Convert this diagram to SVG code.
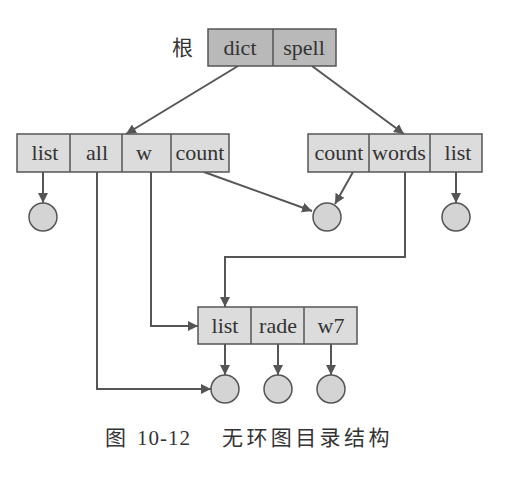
<svg xmlns="http://www.w3.org/2000/svg" width="520" height="478" viewBox="0 0 520 478">
<style>
.box{fill:#dcdcdc;stroke:#555;stroke-width:1.5}
.root{fill:#b9b9b9;stroke:#555;stroke-width:1.5}
.div{stroke:#555;stroke-width:1.5}
.t{font-family:"Liberation Serif",serif;font-size:22px;fill:#333;text-anchor:middle}
.c{fill:#d4d4d4;stroke:#555;stroke-width:1.5}
.e{fill:none;stroke:#555;stroke-width:2}
.cap{font-family:"Liberation Serif","Noto Sans CJK SC",serif;font-size:21px;fill:#333}
</style>
<defs>
<marker id="a" viewBox="0 0 10 10" refX="10" refY="5" markerWidth="5" markerHeight="5" orient="auto" markerUnits="strokeWidth">
<path d="M0,0 L10,5 L0,10 z" fill="#555"/>
</marker>
</defs>
<rect width="520" height="478" fill="#fff"/>
<g id="connectors">
<path class="e" d="M238,66 L126,134" marker-end="url(#a)"/>
<path class="e" d="M312,66 L404,134" marker-end="url(#a)"/>
<path class="e" d="M43,172 L43,203" marker-end="url(#a)"/>
<path class="e" d="M204,172 L312,211" marker-end="url(#a)"/>
<path class="e" d="M353,172 L335,204" marker-end="url(#a)"/>
<path class="e" d="M456,172 L456,203" marker-end="url(#a)"/>
<path class="e" d="M97,172 L97,389 L211,389" marker-end="url(#a)"/>
<path class="e" d="M151,172 L151,326 L198,326" marker-end="url(#a)"/>
<path class="e" d="M405,172 L405,257 L225,257 L225,307" marker-end="url(#a)"/>
<path class="e" d="M225,344 L225,375" marker-end="url(#a)"/>
<path class="e" d="M278,344 L278,375" marker-end="url(#a)"/>
<path class="e" d="M331,344 L331,375" marker-end="url(#a)"/>
</g>
<g id="root">
<text class="cap" x="172" y="55" font-size="22">根</text>
<rect class="root" x="208" y="29" width="128" height="37"/>
<line class="div" x1="273" y1="29" x2="273" y2="66"/>
<text class="t" x="240" y="55">dict</text>
<text class="t" x="304" y="55">spell</text>
</g>
<g id="dir-left">
<rect class="box" x="17" y="134" width="212" height="38"/>
<line class="div" x1="70" y1="134" x2="70" y2="172"/>
<line class="div" x1="122" y1="134" x2="122" y2="172"/>
<line class="div" x1="171" y1="134" x2="171" y2="172"/>
<text class="t" x="45" y="160">list</text>
<text class="t" x="97" y="160">all</text>
<text class="t" x="144" y="160">w</text>
<text class="t" x="200" y="160">count</text>
</g>
<g id="dir-right">
<rect class="box" x="308" y="134" width="174" height="38"/>
<line class="div" x1="369" y1="134" x2="369" y2="172"/>
<line class="div" x1="430" y1="134" x2="430" y2="172"/>
<text class="t" x="339" y="160">count</text>
<text class="t" x="399" y="160">words</text>
<text class="t" x="458" y="160">list</text>
</g>
<g id="dir-bottom">
<rect class="box" x="198" y="307" width="159" height="37"/>
<line class="div" x1="251" y1="307" x2="251" y2="344"/>
<line class="div" x1="304" y1="307" x2="304" y2="344"/>
<text class="t" x="225" y="333">list</text>
<text class="t" x="278" y="333">rade</text>
<text class="t" x="331" y="333">w7</text>
</g>
<g id="file-1"><circle class="c" cx="43" cy="217" r="14"/></g>
<g id="file-2"><circle class="c" cx="327" cy="217" r="14"/></g>
<g id="file-3"><circle class="c" cx="456" cy="217" r="14"/></g>
<g id="file-4"><circle class="c" cx="225" cy="389" r="14"/></g>
<g id="file-5"><circle class="c" cx="278" cy="389" r="14"/></g>
<g id="file-6"><circle class="c" cx="331" cy="389" r="14"/></g>
<text class="cap" x="105" y="445" font-size="22">图 <tspan x="137" letter-spacing="1">10-12</tspan><tspan x="222" font-size="21" letter-spacing="3.4">无环图目录结构</tspan></text>
</svg>
